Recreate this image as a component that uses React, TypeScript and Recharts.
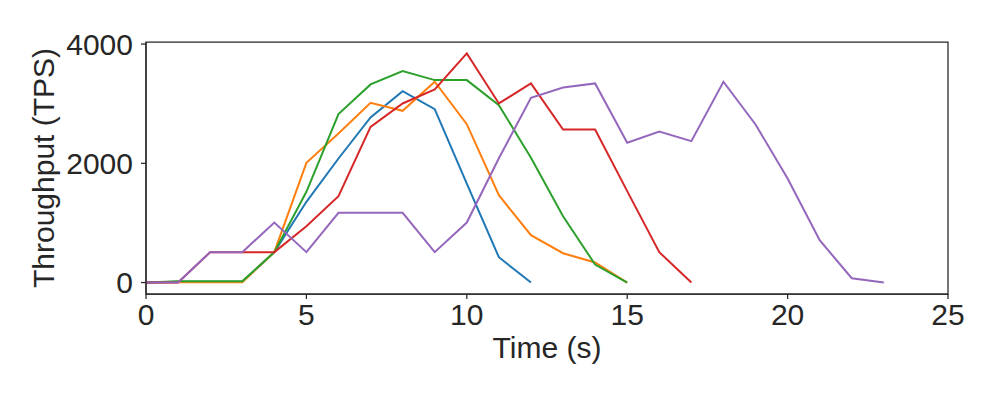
import { Label, Line, LineChart, ReferenceArea, XAxis, YAxis } from "recharts"

// throughput per second, one run per colour (index = second)
const runBlue = [0, 15, 15, 15, 510, 1354, 2081, 2769, 3211, 2909, 1661, 425, 0]
const runOrange = [0, 5, 5, 5, 510, 2008, 2500, 3015, 2881, 3368, 2657, 1466, 794, 492, 336, 0]
const runGreen = [0, 20, 20, 20, 510, 1522, 2825, 3323, 3547, 3396, 3396, 2976, 2092, 1113, 302, 0]
const runRed = [0, 0, 510, 510, 510, 945, 1449, 2612, 3004, 3239, 3843, 3004, 3340, 2568, 2568, 1533, 510, 0]
const runPurple = [
  0, 0, 510, 510, 1007, 510, 1169, 1169, 1169, 510, 1007, 2086, 3099, 3272, 3340, 2344, 2534, 2372, 3368,
  2652, 1745, 710, 73, 0,
]

const xTicks = [0, 5, 10, 15, 20, 25]
const yTicks = [0, 2000, 4000]

const runs = [
  { name: "blue", values: runBlue, color: "#1f77b4" },
  { name: "orange", values: runOrange, color: "#ff7f0e" },
  { name: "green", values: runGreen, color: "#2ca02c" },
  { name: "red", values: runRed, color: "#d62728" },
  { name: "purple", values: runPurple, color: "#9467bd" },
]

const toPoints = (values: number[]) => values.map((v, t) => ({ t, v }))

const ink = "#262626"
const font = "'Liberation Sans', Arial, sans-serif"
const fontSize = 30
const yMin = -192
const yMax = 4035

export default function App() {
  return (
    <div style={{ position: "absolute", left: 0, top: 0, width: 1000, height: 400, background: "#fff" }}>
      <LineChart
        width={1000}
        height={400}
        margin={{ top: 42, right: 52, left: 36, bottom: 42 }}
        style={{ fontFamily: font }}
      >
        <XAxis
          dataKey="t"
          type="number"
          domain={[0, 25]}
          ticks={xTicks}
          height={64}
          tick={{ fill: ink, fontSize }}
          tickSize={5}
          tickMargin={5}
          tickLine={{ stroke: ink, strokeWidth: 1.25 }}
          axisLine={{ stroke: ink, strokeWidth: 1.25 }}
          allowDuplicatedCategory={false}
        >
          <Label value="Time (s)" position="insideBottom" offset={0} fill={ink} fontSize={fontSize} />
        </XAxis>
        <YAxis
          type="number"
          domain={[yMin, yMax]}
          ticks={yTicks}
          width={110}
          tick={{ fill: ink, fontSize }}
          tickSize={5}
          tickMargin={8}
          tickLine={{ stroke: ink, strokeWidth: 1.25 }}
          axisLine={{ stroke: ink, strokeWidth: 1.25 }}
        >
          <Label
            content={(props: any) => {
              const vb = props.viewBox || { y: 42, height: 252 }
              const cx = 54
              const cy = vb.y + vb.height / 2
              return (
                <text
                  x={cx}
                  y={cy}
                  transform={`rotate(-90 ${cx} ${cy})`}
                  textAnchor="middle"
                  fill={ink}
                  fontSize={fontSize}
                  fontFamily={font}
                >
                  Throughput (TPS)
                </text>
              )
            }}
          />
        </YAxis>
        <ReferenceArea x1={0} x2={25} y1={yMin} y2={yMax} fill="none" stroke={ink} strokeWidth={1.25} />
        {runs.map((r) => (
          <Line
            key={r.name}
            data={toPoints(r.values)}
            dataKey="v"
            type="linear"
            stroke={r.color}
            strokeWidth={2}
            dot={false}
            activeDot={false}
            isAnimationActive={false}
          />
        ))}
      </LineChart>
    </div>
  )
}
